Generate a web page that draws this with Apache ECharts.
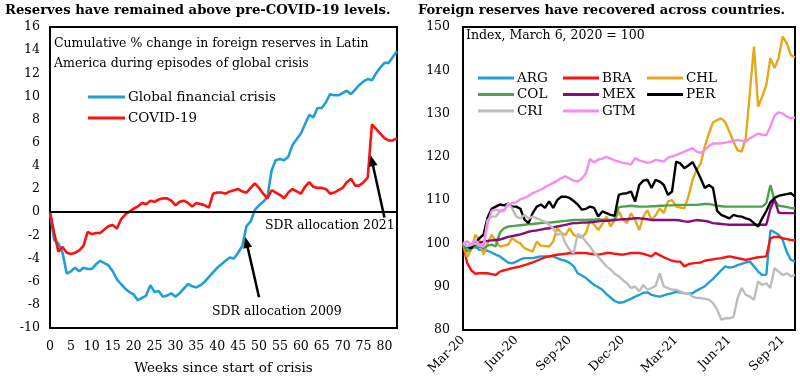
<!DOCTYPE html>
<html><head><meta charset="utf-8">
<script src="https://cdn.jsdelivr.net/npm/echarts@6/dist/echarts.min.js"></script>
<style>html,body{margin:0;padding:0;background:#fff}#c{width:800px;height:385px}</style>
</head><body><div id="c"></div>
<script>
// ---------- Left chart data ----------
const leftTitle = 'Reserves have remained above pre-COVID-19 levels.';
const leftNote = ['Cumulative % change in foreign reserves in Latin', 'America during episodes of global crisis'];
const weekCount = 84;
const gfc = [0,-2.4,-2.7,-3.5,-5.3,-5.1,-4.8,-5.1,-4.8,-4.9,-4.9,-4.5,-4.2,-4.4,-4.6,-5.1,-5.8,-6.2,-6.6,-6.9,
  -7.1,-7.6,-7.4,-7.2,-6.3,-6.9,-6.8,-7.3,-7.2,-7.0,-7.3,-7.0,-6.6,-6.2,-6.4,-6.5,-6.3,-6.0,-5.6,-5.2,
  -4.8,-4.5,-4.2,-3.9,-4.0,-3.5,-2.9,-1.2,-0.8,0.2,0.6,0.9,1.3,3.6,4.5,4.6,4.5,4.8,5.8,6.3,
  6.8,7.6,8.4,8.2,9.0,9.0,9.5,10.2,10.1,10.1,10.3,10.5,10.2,10.6,11.0,11.3,11.5,11.4,12.0,12.5,
  12.9,12.9,13.4,13.9];
const covid = [0,-1.8,-3.4,-3.0,-3.5,-3.6,-3.5,-3.3,-2.9,-1.7,-1.9,-1.8,-1.8,-1.5,-1.2,-1.1,-1.4,-0.6,-0.2,0.05,
  0.3,0.5,0.8,0.7,1.0,0.9,1.1,1.2,1.2,1.0,0.6,0.9,1.0,0.8,0.5,0.8,0.7,0.6,0.4,1.6,
  1.7,1.7,1.6,1.8,1.9,2.0,1.8,1.7,2.1,2.5,2.1,1.6,1.2,1.9,1.7,1.5,1.2,1.7,2.0,1.8,
  1.6,2.2,2.6,2.2,2.1,2.1,2.0,1.6,1.7,1.9,2.1,2.6,2.9,2.3,2.3,2.6,3.0,7.6,7.2,6.8,
  6.4,6.2,6.2,6.4];
const sdr2009 = {from:[49.8,-7.35], to:[47.1,-2.6], text:'SDR allocation 2009'};
const sdr2021 = {from:[79.7,-0.45], to:[77.0,4.45], text:'SDR allocation 2021'};

// ---------- Right chart data ----------
const rightTitle = 'Foreign reserves have recovered across countries.';
const rightNote = 'Index, March 6, 2020 = 100';
const startDate = '2020-03-06';
const pointCount = 82;
const quarterMonths = ['Mar','Jun','Sep','Dec'];
const ARG = [100,98.9,99.1,99.3,98.5,98.5,98.3,97.9,97.4,97,96.3,95.6,95.4,95.8,96.3,96.6,96.6,96.6,96.8,97,
  97,97,97,96.6,96.2,96,95.5,94.7,93.1,92.6,92,91.2,90.4,89.9,89.3,88.3,87.5,86.7,86.3,86.4,
  86.8,87.2,87.7,88.1,88.6,88.7,88.1,87.9,87.7,88,88.3,88.5,88.8,88.7,88.5,88.4,88.5,89.1,89.6,90.1,
  91,91.8,92.8,93.8,94.7,94.4,94.6,95,95.3,95.6,95.8,94.7,93.5,92.7,92.8,103,102.6,102,100.8,98,
  96.2,95.8];
const BRA = [100,95.5,93.8,93,93.1,93.1,93.1,92.9,92.7,93.5,93.8,94,94.3,94.5,94.7,95,95.3,95.6,96,96.4,
  96.8,97,97.2,97.4,97.5,97.6,97.8,97.7,97.8,97.8,97.8,97.6,97.5,97.4,97.6,97.8,97.8,97.6,97.5,97.4,
  97.6,97.8,97.8,97.8,97.6,97.3,97,97.8,97.3,96.8,96.4,96,95.8,95.8,94.7,95.2,95.4,95.5,95.6,96,
  96.2,96.3,96.5,96.6,96.8,97,96.8,96.6,96.4,96.2,96.4,96.6,96.8,96.9,97,101.2,101.5,101.5,101.2,101,
  100.8,100.7];
const CHL = [100,96.8,98.5,102,100.8,97.4,100,102,100.5,99.3,99.5,99.7,101.2,100.5,100,98.9,98.5,98.1,100.4,99.5,
  99.4,99.3,100.4,103.5,102.4,102,103.5,102,101.6,101.4,102.4,105.4,104.3,103.1,104.5,106.2,103.9,105.4,107.4,105.5,
  104.7,107,105.4,103.1,106.2,107.7,105.4,106.5,108.1,107,109.7,110,108.5,108.3,108.1,110.8,114.7,117,118.5,122.4,
  125.4,128,128.5,128.9,128,125.8,123.5,121.5,121.2,124.3,135,145.5,131.6,133.9,136.6,142.8,140.5,142.8,147.8,146.2,
  143.5,143];
const COL = [100,98.1,98.9,99.1,99.3,98.9,99.5,99.7,99.3,102.5,103.5,103.9,104,104.1,104.2,104.3,104.4,104.5,104.6,104.7,
  104.8,104.8,104.9,105,105.1,105.2,105.3,105.4,105.4,105.4,105.4,105.5,105.5,105.6,105.5,105.4,105.4,105.6,108.4,108.5,
  108.6,108.7,108.6,108.5,108.5,108.5,108.6,108.6,108.7,108.7,108.8,108.8,108.9,108.9,108.9,108.9,108.9,108.9,109,109.1,
  109.1,108.9,108.7,108.6,108.5,108.5,108.5,108.5,108.5,108.5,108.5,108.5,108.5,108.5,109.3,113.5,110,108.7,108.6,108.4,
  108.2,108.1];
const MEX = [100,99.2,99.8,99.6,100.2,100.4,100.6,100.7,100.8,100.9,101.2,101.5,101.7,101.9,102.1,102.4,102.7,102.9,103,103.2,
  103.4,103.5,103.7,103.9,104.1,104.3,104.5,104.7,104.7,104.8,104.8,104.9,105,105.1,105.2,105.2,105.3,105.4,105.5,105.6,
  105.6,105.7,105.8,105.8,105.7,105.6,105.4,105.4,105.4,105.4,105.4,105.4,105.4,105.3,105.1,105,105.2,105.4,105.3,105.2,
  105,104.7,104.6,104.5,104.4,104.3,104.3,104.3,104.3,104.3,104.3,104.3,104.3,104.3,104.3,108,110.2,107.1,107,107,
  107,107];
const PER = [100,99.3,98.9,100.2,101.2,102,106,108,108.5,109,108.8,109.2,108.5,108.5,108,105.5,104.7,107,108.5,109,
  108.2,109.7,108.2,110,110.8,110.8,110.5,109.8,109,107.8,108,108.5,108.2,106.2,107.4,107,106.6,106.4,111.2,111.5,
  111.6,112,109.7,113.5,114.5,114.7,112.8,114.7,114.3,113.5,111.2,112,118.9,118.5,117.4,118,118.8,117,115,112.8,
  113.5,112.8,107.5,106.6,106.2,105.8,106.6,106.3,106.2,105.8,105.5,104.7,103.9,105.8,107.5,109.5,110.5,111,111.2,111.4,
  111.6,110.8];
const CRI = [100,99.3,99.6,100,99.5,99.3,105.4,106.2,106.2,107.4,107.4,109.3,108.1,106.2,105.8,106.6,105.8,106.2,105.8,105.4,
  105,104.3,103.5,102,102.4,100,98.5,97.8,102.2,101.6,100.4,99.3,97.8,96.9,95.8,94.7,94,93,92.4,91.5,
  90.8,89.7,90,88.9,90.4,89.3,89.7,90.2,93.1,90,89.7,89.3,89.3,88.9,88.5,88.5,87.7,87.4,87.4,87.2,
  87,86.2,84.7,82.4,82.7,82.7,83,87.4,89.7,88.1,87.7,87,91.2,90.4,90.8,89.7,94.3,93.5,92.7,93.1,
  92.4,92.7];
const GTM = [100,100.5,99.7,100.8,99.7,99.3,104.5,107.5,107.8,107.5,107.8,108.8,109.3,109.5,110.2,110.5,111,111.6,112,112.4,
  113,113.5,114,114.5,115.1,115.5,115,114.5,114.3,115,116.2,119.5,118.7,119.4,119.6,120,119.6,119.2,118.9,118.6,
  118.5,118.2,119.7,119.2,118.9,118.6,118.8,119.3,119.1,118.9,119.8,120.1,120.4,120.8,121.2,121.6,122,121.2,120.9,121.6,
  122.5,123.1,123.1,123.1,123.3,123.5,123.7,123.9,123.7,123.5,124.3,124.8,125.4,125.1,125,127,129.5,130.3,130,129.3,
  128.9,129.1];
const countries = [
  {name:'ARG', data:ARG, color:'#1f9fd5'},
  {name:'BRA', data:BRA, color:'#ff1010'},
  {name:'CHL', data:CHL, color:'#e3a81c'},
  {name:'COL', data:COL, color:'#4ea24e'},
  {name:'MEX', data:MEX, color:'#880a80'},
  {name:'PER', data:PER, color:'#000000'},
  {name:'CRI', data:CRI, color:'#bdbdbd'},
  {name:'GTM', data:GTM, color:'#f68cf0'}
];
const legendCols = [['ARG','COL','CRI'],['BRA','MEX','GTM'],['CHL','PER']];

// ---------- build ----------
const FONT = 'DejaVu Serif';
const weeks = [];
for (let i = 0; i < weekCount; i++) weeks.push(String(i));
const monthNames = ['Jan','Feb','Mar','Apr','May','Jun','Jul','Aug','Sep','Oct','Nov','Dec'];
const dates = [];
{
  const d0 = new Date(startDate + 'T00:00:00Z');
  for (let i = 0; i < pointCount; i++) {
    const d = new Date(d0.getTime() + i * 7 * 86400000);
    dates.push(d.toISOString().slice(0,10));
  }
}
function monthLabel(s){ const m = +s.slice(5,7)-1; return monthNames[m] + '-' + s.slice(2,4); }

const chart = echarts.init(document.getElementById('c'), null, {renderer:'canvas'});
const txt = {fontFamily: FONT, color:'#000'};
const lineW = 2.6;

const option = {
  backgroundColor:'#fff',
  animation:false,
  textStyle:{fontFamily:FONT},
  title:[
    {text:leftTitle, left:5, top:4, padding:0, textStyle:{fontFamily:FONT, fontWeight:'bold', fontSize:13.2, color:'#000'}},
    {text:rightTitle, left:418, top:4, padding:0, textStyle:{fontFamily:FONT, fontWeight:'bold', fontSize:13.1, color:'#000'}}
  ],
  grid:[
    {left:50, top:27, width:347, height:301, show:true, borderColor:'#000', borderWidth:2, backgroundColor:'transparent'},
    {left:463, top:27, width:332, height:303, show:true, borderColor:'#000', borderWidth:2, backgroundColor:'transparent'}
  ],
  legend:[
    {orient:'vertical', left:88, top:89, padding:0, icon:'rect', itemWidth:37, itemHeight:3, itemGap:5,
     data:['Global financial crisis','COVID-19'], textStyle:{...txt, fontSize:13.5, lineHeight:16, padding:[0,0,0,-2]}},
  ].concat(legendCols.map((col, k) => ({
     orient:'vertical', left:[478,563,647][k], top:70, padding:0, icon:'rect', itemWidth:36, itemHeight:3, itemGap:0.5,
     data:col, textStyle:{...txt, fontSize:13.5, lineHeight:16, padding:[0,0,0,-2]}
  }))),
  xAxis:[
    {type:'category', gridIndex:0, data:weeks, boundaryGap:false,
     axisLine:{show:false}, axisTick:{show:false},
     axisLabel:{interval:4, ...txt, fontSize:12.5, margin:12},
     name:'Weeks since start of crisis', nameLocation:'middle', nameGap:33,
     nameTextStyle:{...txt, fontSize:13.5}},
    {type:'category', gridIndex:1, data:dates, boundaryGap:false,
     axisLine:{show:false}, axisTick:{show:false},
     axisLabel:{...txt, fontSize:12.5, rotate:45, margin:8,
       interval:(i, v) => quarterMonths.includes(monthLabel(v).slice(0,3)) && +v.slice(8,10) <= 7,
       formatter:(v) => monthLabel(v)}}
  ],
  yAxis:[
    {type:'value', gridIndex:0, min:-10, max:16, interval:2,
     axisLine:{show:false}, axisTick:{show:false}, splitLine:{show:false},
     axisLabel:{...txt, fontSize:12.5, margin:10}},
    {type:'value', gridIndex:1, min:80, max:150, interval:10,
     axisLine:{show:false}, axisTick:{show:false}, splitLine:{show:false},
     axisLabel:{...txt, fontSize:12.5, margin:13}}
  ],
  series:[
    {name:'Global financial crisis', type:'line', xAxisIndex:0, yAxisIndex:0, data:gfc,
     symbol:'none', lineStyle:{color:'#1f9fd5', width:lineW}, itemStyle:{color:'#1f9fd5'}, z:3,
     markLine:{silent:true, symbol:'none', label:{show:false},
       lineStyle:{color:'#000', width:2, type:'solid'}, data:[{yAxis:0}]}},
    {name:'COVID-19', type:'line', xAxisIndex:0, yAxisIndex:0, data:covid,
     symbol:'none', lineStyle:{color:'#ff1010', width:lineW}, itemStyle:{color:'#ff1010'}, z:4,
     markLine:{silent:true, symbol:['none','triangle'], symbolSize:[9,11], label:{show:false},
       lineStyle:{color:'#000', width:2.5, type:'solid'},
       data:[
         [{coord:sdr2009.from}, {coord:sdr2009.to}],
         [{coord:sdr2021.from}, {coord:sdr2021.to}]
       ]}}
  ].concat(countries.map(c => ({
    name:c.name, type:'line', xAxisIndex:1, yAxisIndex:1, data:c.data,
    symbol:'none', lineStyle:{color:c.color, width:2.4}, itemStyle:{color:c.color}
  }))),
  graphic:[
    {type:'text', left:54, top:34, style:{text:leftNote.join('\n'), font:'12.5px "DejaVu Serif"', fill:'#000', lineHeight:20}},
    {type:'text', left:466, top:29, style:{text:rightNote, font:'12.5px "DejaVu Serif"', fill:'#000'}},
    {type:'text', left:265, top:219, style:{text:sdr2021.text, font:'12.5px "DejaVu Serif"', fill:'#000'}},
    {type:'text', left:212, top:305, style:{text:sdr2009.text, font:'12.5px "DejaVu Serif"', fill:'#000'}}
  ]
};
chart.setOption(option);
</script>
</body></html>
